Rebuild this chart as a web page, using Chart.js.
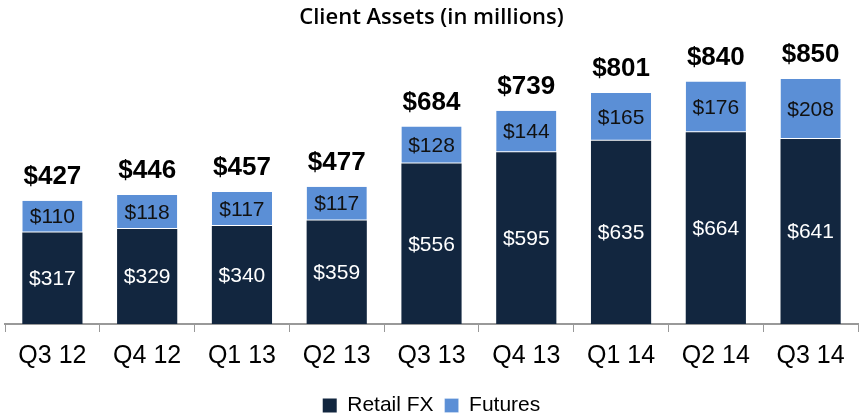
<!DOCTYPE html>
<html>
<head>
<meta charset="utf-8">
<script src="https://cdn.jsdelivr.net/npm/chart.js@4"></script>
<style>
  html, body { margin: 0; padding: 0; background: #fff; }
  #wrap { width: 862px; height: 420px; position: relative; }
</style>
</head>
<body>
<div id="wrap"><canvas id="chart"></canvas></div>
<script>
// Chart data
const quarters = ['Q3 12', 'Q4 12', 'Q1 13', 'Q2 13', 'Q3 13', 'Q4 13', 'Q1 14', 'Q2 14', 'Q3 14'];
const retailFx = [317, 329, 340, 359, 556, 595, 635, 664, 641];
const futures = [110, 118, 117, 117, 128, 144, 165, 176, 208];
const totals = [427, 446, 457, 477, 684, 739, 801, 840, 850];

const FONT = "'Liberation Sans', Arial, sans-serif";

// Draws the segment values and the totals above each bar
const labelPlugin = {
    id: 'barLabels',
    afterDatasetsDraw(chart) {
        const ctx = chart.ctx;
        ctx.save();
        ctx.textAlign = 'center';
        ctx.textBaseline = 'middle';
        chart.data.datasets.forEach((ds, i) => {
            const meta = chart.getDatasetMeta(i);
            meta.data.forEach((bar, j) => {
                const mid = (bar.y + bar.base) / 2;
                ctx.font = '21px ' + FONT;
                ctx.fillStyle = i === 0 ? '#ffffff' : '#111111';
                ctx.fillText('$' + ds.data[j], bar.x, mid + 1);
            });
        });
        const top = chart.getDatasetMeta(1);
        top.data.forEach((bar, j) => {
            ctx.font = 'bold 26px ' + FONT;
            ctx.fillStyle = '#000000';
            ctx.fillText('$' + totals[j], bar.x, bar.y - 24);
        });
        ctx.restore();
    }
};

new Chart(document.getElementById('chart'), {
    type: 'bar',
    data: {
        labels: quarters,
        datasets: [{
            label: 'Retail FX',
            data: retailFx,
            backgroundColor: '#12263f',
            borderWidth: 0,
            categoryPercentage: 0.635,
            barPercentage: 1
        }, {
            label: 'Futures',
            data: futures,
            backgroundColor: '#5b8fd6',
            borderColor: '#ffffff',
            borderWidth: { top: 0, bottom: 1, left: 0, right: 0 },
            borderSkipped: false,
            categoryPercentage: 0.635,
            barPercentage: 1
        }]
    },
    options: {
        responsive: true,
        maintainAspectRatio: false,
        animation: false,
        layout: { padding: { left: 5, right: 4, top: 0, bottom: -6 } },
        plugins: {
            title: {
                display: true,
                text: 'Client Assets (in millions)',
                color: '#000',
                font: { family: "'Open Sans', Roboto, sans-serif", size: 22, weight: '600' },
                padding: { top: 5, bottom: 4 }
            },
            legend: {
                position: 'bottom',
                labels: {
                    color: '#000',
                    font: { family: FONT, size: 21 },
                    boxWidth: 14,
                    boxHeight: 14,
                    padding: 11
                }
            },
            tooltip: { enabled: false }
        },
        scales: {
            x: {
                stacked: true,
                afterFit(scale) { scale.height += 4; },
                grid: {
                    offset: true,
                    drawOnChartArea: false,
                    drawTicks: true,
                    tickLength: 8,
                    color: '#999'
                },
                border: { color: '#999', width: 2 },
                ticks: {
                    color: '#000',
                    font: { family: FONT, size: 25 },
                    padding: 9
                }
            },
            y: {
                stacked: true,
                display: false,
                min: 0,
                max: 1000
            }
        }
    },
    plugins: [labelPlugin]
});
</script>
</body>
</html>
